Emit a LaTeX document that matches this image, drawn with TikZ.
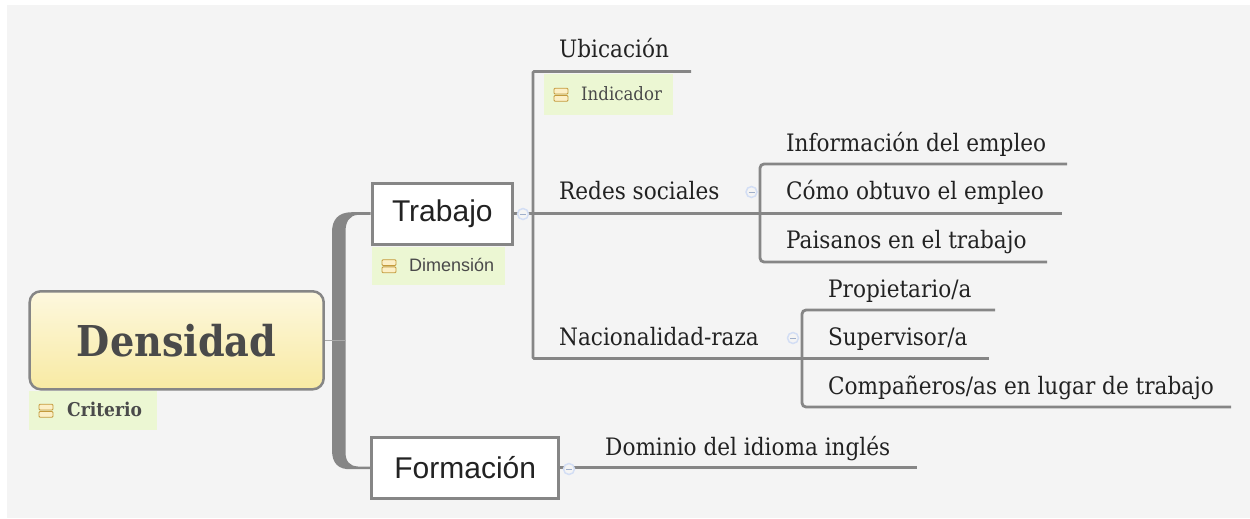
\documentclass[tikz,border=0pt]{standalone}
\usepackage{fontspec}
\usepackage{tkz-euclide}
\setmainfont{DejaVu Serif Condensed}
\setsansfont{Liberation Sans}

\definecolor{mapback}{HTML}{F4F4F4}
\definecolor{branchgray}{HTML}{868686}
\definecolor{rootline}{HTML}{A8A8A8}
\definecolor{roottop}{HTML}{FDF8DE}
\definecolor{rootbottom}{HTML}{F8EAA3}
\definecolor{tagfill}{HTML}{ECF7D3}
\definecolor{iconline}{HTML}{C49A3C}
\definecolor{iconfill}{HTML}{FCEFC6}
\definecolor{circleline}{HTML}{D3DEF4}
\definecolor{circleminus}{HTML}{9FAFCB}
\definecolor{inktext}{HTML}{222222}
\definecolor{softtext}{HTML}{4A4A4A}

\tikzset{
    rootbox/.style={draw=branchgray, line width=2.5pt, rounded corners=11pt, top color=roottop, bottom color=rootbottom, minimum width=294pt, minimum height=98pt, inner sep=0pt, text=softtext, font=\bfseries\fontsize{42.5}{46}\selectfont},
    mainbox/.style={draw=branchgray, line width=3pt, fill=white, minimum height=61pt, inner sep=0pt, text=inktext, font=\sffamily\fontsize{30}{34}\selectfont},
    topic/.style={anchor=base west, inner sep=0pt, text=inktext, font=\fontsize{24}{28}\selectfont},
    tagbox/.style={fill=tagfill, anchor=north west, inner sep=0pt},
    tagtext/.style={anchor=base west, inner sep=0pt, text=softtext},
    topicline/.style={draw=branchgray, line width=2.8pt, line cap=butt},
    cornerline/.style={draw=branchgray, line width=2.8pt, rounded corners=4pt},
    foldmark/.style={circle, draw=circleline, line width=1.5pt, fill=mapback, minimum size=11pt, inner sep=0pt,
        path picture={\draw[circleminus, line width=1pt] ([xshift=-3pt]path picture bounding box.center) -- ([xshift=3pt]path picture bounding box.center);}},
    noteicon/.pic={
        \draw[iconline, fill=iconfill, line width=0.9pt, rounded corners=1pt] (-7,-6.5) rectangle (7,-0.7);
        \draw[iconline, fill=iconfill, line width=0.9pt, rounded corners=1pt] (-7,0.7) rectangle (7,6.5);
    }
}

\begin{document}
\begin{tikzpicture}[x=1pt, y=-1pt]

    \useasboundingbox (0,0) rectangle (1250,519);
    \fill[mapback] (7,5) rectangle (1250,518);

    \node[rootbox] (densidad) at (176.7,340.3) {Densidad};
    \node[mainbox, minimum width=140.5pt] (trabajo) at (442.3,213.5) {Trabajo};
    \node[mainbox, minimum width=186.5pt] (formacion) at (465.2,467.8) {Formación};

    \tkzDefPoints{691/71.5/ubicend, 533/71.5/ubiccorner, 533/358.5/nacioncorner,
        760/164/redestop, 1067/164/infoend, 760/213.5/redesmid, 1062/213.5/comoend,
        760/262/redesbottom, 1047/262/paisanosend,
        802/310/naciontop, 995/310/propend, 802/358.5/nacionmid, 989/358.5/superend,
        802/407/nacionbottom, 1231/407/compaend, 917/467.8/dominioend}

    \fill[branchgray] ([yshift=1.3pt]trabajo.west) -- (352,212.2)
        .. controls (338,212.2) and (332,220) .. (332,232) -- (332,450)
        .. controls (332,463) and (338,470) .. (352,469.2)
        -- ([yshift=-1.3pt]formacion.west) -- ([yshift=1.3pt]formacion.west) -- (358,466.5)
        .. controls (349,466) and (345.5,461) .. (345.5,452) -- (345.5,232)
        .. controls (345.5,222) and (349,215.5) .. (358,214.8)
        -- ([yshift=-1.3pt]trabajo.west) -- cycle;
    \draw[rootline, line width=1.5pt] (densidad.east) -- ++(21,0);

    \draw[cornerline, rounded corners=1pt] (ubicend) -- (ubiccorner) -- (nacioncorner) -- (nacionmid);
    \draw[cornerline] (infoend) -- (redestop) -- (redesbottom) -- (paisanosend);
    \draw[cornerline] (propend) -- (naciontop) -- (nacionbottom) -- (compaend);

    \tkzDrawSegments[topicline](trabajo.east,redesmid redesmid,comoend nacionmid,superend formacion.east,dominioend)

    \node[foldmark] (foldtrabajo) at (523,214) {};
    \node[foldmark] (foldredes) at (751.5,192) {};
    \node[foldmark] (foldnacion) at (793,338) {};
    \node[foldmark] (foldformacion) at (569,469) {};

    \node[topic] (ubicacion) at (559,58) {Ubicación};
    \node[topic] (redes) at (559,199.5) {Redes sociales};
    \node[topic] (nacion) at (559,345) {Nacionalidad-raza};
    \node[topic] (info) at (786,151) {Información del empleo};
    \node[topic] (como) at (786,199.5) {Cómo obtuvo el empleo};
    \node[topic] (paisanos) at (786,248) {Paisanos en el trabajo};
    \node[topic] (prop) at (828,297) {Propietario/a};
    \node[topic] (super) at (828,345) {Supervisor/a};
    \node[topic] (compa) at (828,394) {Compañeros/as en lugar de trabajo};
    \node[topic] (dominio) at (605,455) {Dominio del idioma inglés};

    \node[tagbox, minimum width=128pt, minimum height=39pt] (criteriotag) at (29,391) {};
    \node[tagbox, minimum width=133pt, minimum height=38pt] (dimensiontag) at (372,247) {};
    \node[tagbox, minimum width=129pt, minimum height=41pt] (indicadortag) at (544,74) {};

    \pic at ([xshift=17pt]criteriotag.west) {noteicon};
    \pic at ([xshift=17pt]dimensiontag.west) {noteicon};
    \pic at ([xshift=17pt]indicadortag.west) {noteicon};

    \node[tagtext, font=\bfseries\fontsize{19}{22}\selectfont] (criterio) at (67,416) {Criterio};
    \node[tagtext, font=\sffamily\fontsize{18}{20}\selectfont] (dimension) at (409,271) {Dimensión};
    \node[tagtext, font=\fontsize{18.4}{20}\selectfont] (indicador) at (581,100.5) {Indicador};

\end{tikzpicture}
\end{document}
